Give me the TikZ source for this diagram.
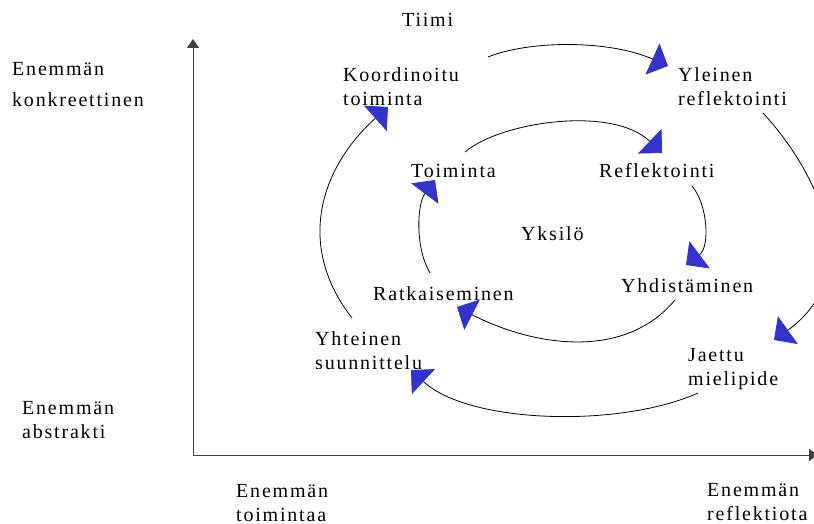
\documentclass[tikz,border=0pt]{standalone}
\usepackage{fontspec}
\setmainfont[LetterSpace=9]{Liberation Serif}
\usetikzlibrary{arrows.meta}
\definecolor{cycleblue}{RGB}{51,51,204}

\begin{document}
\begin{tikzpicture}[x=1pt,y=-1pt,
    lbl/.style={anchor=base west, inner sep=0pt, align=left,
                font=\fontsize{20}{24}\selectfont},
    cyc/.style={draw=black, line width=0.8pt,
                -{Triangle[length=17pt,width=34pt,fill=cycleblue,color=cycleblue]}},
    axisline/.style={draw=black!75, line width=1pt,
                -{Triangle[length=9pt,width=12pt]}}]
    \fill[white] (0,0) rectangle (814,524);
    \useasboundingbox (0,0) rectangle (814,524);

    % Axes
    \coordinate (origin) at (193,455);
    \coordinate (ytop) at (193,39);
    \coordinate (xend) at (818,455);
    \draw[axisline] (origin) -- (ytop);
    \draw[axisline] (origin) -- (xend);

    % Axis texts (base = last line)
    \node[lbl] (tiimi) at (402,27) {Tiimi};
    \node[lbl] (konkr) at (12,107) {Enemmän\\[8pt]konkreettinen};
    \node[lbl] (abstr) at (22,438) {Enemmän\\abstrakti};
    \node[lbl] (toim) at (236,521) {Enemmän\\toimintaa};
    \node[lbl] (refl) at (707,520) {Enemmän\\reflektiota};

    % Outer cycle (team)
    \node[lbl] (koord) at (343,106) {Koordinoitu\\toiminta};
    \node[lbl] (yleinen) at (678,106) {Yleinen\\reflektointi};
    \node[lbl] (jaettu) at (688,385) {Jaettu\\mielipide};
    \node[lbl] (yhteinen) at (315,369) {Yhteinen\\suunnittelu};

    % Inner cycle (individual)
    \node[lbl] (yksilo) at (521,240) {Yksilö};
    \node[lbl] (toiminta) at (411,178) {Toiminta};
    \node[lbl] (reflekt) at (599,178) {Reflektointi};
    \node[lbl] (yhdist) at (621,292) {Yhdistäminen};
    \node[lbl] (ratk) at (373,300) {Ratkaiseminen};

    % Outer arcs
    \coordinate (o1a) at (488,57);  \coordinate (o1b) at (668,66);
    \coordinate (o2a) at (763,113); \coordinate (o2b) at (774,340);
    \coordinate (o3a) at (698,393); \coordinate (o3b) at (411,370);
    \coordinate (o4a) at (352,318); \coordinate (o4b) at (388,107);
    \draw[cyc] (o1a) .. controls (530,40) and (610,40) .. (o1b);
    \draw[cyc] (o2a) .. controls (820,175) and (865,275) .. (o2b);
    \draw[cyc] (o3a) .. controls (620,428) and (469,424) .. (o3b);
    \draw[cyc] (o4a) .. controls (295,245) and (321,167) .. (o4b);

    % Inner arcs
    \coordinate (i1a) at (465,152); \coordinate (i1b) at (662,153);
    \coordinate (i2a) at (692,186); \coordinate (i2b) at (686,265);
    \coordinate (i3a) at (675,300); \coordinate (i3b) at (457,307);
    \coordinate (i4a) at (430,273); \coordinate (i4b) at (435,180);
    \draw[cyc] (i1a) .. controls (500,122) and (612,105) .. (i1b);
    \draw[cyc] (i2a) .. controls (708,205) and (710,247) .. (i2b);
    \draw[cyc] (i3a) .. controls (625,360) and (535,347) .. (i3b);
    \draw[cyc] (i4a) .. controls (415,248) and (417,204) .. (i4b);
\end{tikzpicture}
\end{document}
